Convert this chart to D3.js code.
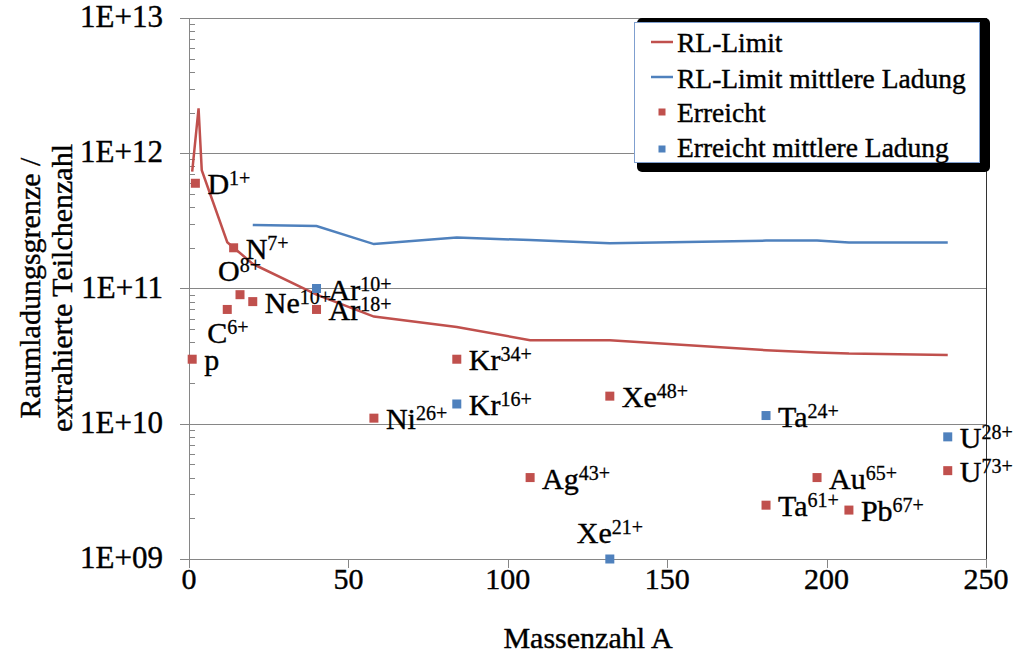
<!DOCTYPE html>
<html>
<head>
<meta charset="utf-8">
<script src="https://cdn.jsdelivr.net/npm/d3@7"></script>
<style>
  body { margin: 0; background: #fff; }
</style>
</head>
<body>
<svg width="1016" height="656"></svg>
<script>
// RL-Limit (space charge limit), red line
var limitA = [1, 3, 4, 12, 14, 16, 20, 40, 58, 84, 107, 132, 181, 197, 207, 238];
var limitN = [7.3e11, 2.15e12, 7.5e11, 2.2e11, 2.0e11, 1.83e11, 1.52e11, 9.0e10, 6.2e10, 5.2e10, 4.15e10, 4.15e10, 3.5e10, 3.37e10, 3.3e10, 3.22e10];

// RL-Limit mittlere Ladung, blue line
var meanLimitA = [20, 40, 58, 84, 107, 132, 181, 197, 207, 238];
var meanLimitN = [2.95e11, 2.9e11, 2.13e11, 2.38e11, 2.28e11, 2.16e11, 2.26e11, 2.26e11, 2.19e11, 2.19e11];

// Erreicht (red squares)
var reachedIon = ["p", "D", "C", "N", "O", "Ne", "Ar", "Ni", "Kr", "Ag", "Xe", "Ta", "Au", "Pb", "U"];
var reachedQ   = ["", "1+", "6+", "7+", "8+", "10+", "18+", "26+", "34+", "43+", "48+", "61+", "65+", "67+", "73+"];
var reachedA   = [1, 2, 12, 14, 16, 20, 40, 58, 84, 107, 132, 181, 197, 207, 238];
var reachedN   = [3e10, 6e11, 7e10, 2e11, 9e10, 8e10, 7e10, 1.1e10, 3e10, 4e9, 1.6e10, 2.5e9, 4e9, 2.3e9, 4.5e9];

// Erreicht mittlere Ladung (blue squares)
var meanIon = ["Ar", "Kr", "Xe", "Ta", "U"];
var meanQ   = ["10+", "16+", "21+", "24+", "28+"];
var meanA   = [40, 84, 132, 181, 238];
var meanN   = [1e11, 1.4e10, 1e9, 1.15e10, 8e9];

var yTicks = [1e9, 1e10, 1e11, 1e12, 1e13];
var xTicks = [0, 50, 100, 150, 200, 250];

var red = "#c0504d", blue = "#4f81bd", grid = "#868686";
var serif = "'Liberation Serif'";

// label placement exceptions (dx, dy from point to text baseline start)
var labelShift = { "C6+": [-20, 34], "O8+": [-22, -14], "Xe21+": [-33, -16] };

var svg = d3.select("svg");
var plotL = 189, plotR = 986, plotT = 18, plotB = 559;

var x = d3.scaleLinear().domain([0, 250]).range([plotL, plotR]);
var y = d3.scaleLog().domain([1e9, 1e13]).range([plotB, plotT]);

// heavier serif text like the original
function txt(sel, size) {
    return sel.style("font-family", serif).style("font-size", size + "px")
        .attr("fill", "#000").attr("stroke", "#000").attr("stroke-width", 0.4);
}

// grid lines
svg.append("g").selectAll("line").data(yTicks).enter().append("line")
    .attr("x1", plotL - 9).attr("x2", plotR)
    .attr("y1", function(d) { return Math.round(y(d)) + 0.5; }).attr("y2", function(d) { return Math.round(y(d)) + 0.5; })
    .attr("stroke", grid).attr("stroke-width", 1);

// minor log ticks inside the axis
var minor = [];
yTicks.slice(0, 4).forEach(function(t) { for (var k = 2; k < 10; k++) minor.push(t * k); });
svg.append("g").selectAll("line").data(minor).enter().append("line")
    .attr("x1", plotL).attr("x2", plotL + 6)
    .attr("y1", function(d) { return Math.round(y(d)) + 0.5; }).attr("y2", function(d) { return Math.round(y(d)) + 0.5; })
    .attr("stroke", grid);

// y axis
svg.append("line").attr("x1", plotL + 0.5).attr("x2", plotL + 0.5).attr("y1", plotT).attr("y2", plotB).attr("stroke", grid);
txt(svg.append("g").selectAll("text").data(yTicks).enter().append("text")
    .attr("x", 163).attr("y", function(d) { return y(d) + 9; })
    .attr("text-anchor", "end"), 31)
    .text(function(d) { return "1E+" + d3.format("02d")(Math.round(Math.log10(d))); });

// x axis
svg.append("line").attr("x1", plotL).attr("x2", plotR).attr("y1", plotB + 0.5).attr("y2", plotB + 0.5).attr("stroke", grid);
svg.append("line").attr("x1", plotR + 0.5).attr("x2", plotR + 0.5).attr("y1", plotT).attr("y2", plotB + 9).attr("stroke", "#333");
svg.append("g").selectAll("line").data(xTicks).enter().append("line")
    .attr("x1", function(d) { return Math.round(x(d)) + 0.5; }).attr("x2", function(d) { return Math.round(x(d)) + 0.5; })
    .attr("y1", plotB).attr("y2", plotB + 9).attr("stroke", grid);
txt(svg.append("g").selectAll("text").data(xTicks).enter().append("text")
    .attr("x", function(d) { return x(d); }).attr("y", 589)
    .attr("text-anchor", "middle"), 30)
    .text(function(d) { return d; });

// axis titles
txt(svg.append("text").attr("x", 588).attr("y", 648).attr("text-anchor", "middle"), 30)
    .text("Massenzahl A");
var yt = txt(svg.append("text").attr("transform", "translate(40,288) rotate(-90)")
    .attr("text-anchor", "middle"), 30);
yt.append("tspan").attr("x", 0).attr("y", 0).text("Raumladungsgrenze /");
yt.append("tspan").attr("x", 0).attr("y", 32).text("extrahierte Teilchenzahl");

// lines
var line = d3.line().x(function(d) { return x(d[0]); }).y(function(d) { return y(d[1]); });
svg.append("path").datum(d3.zip(limitA, limitN)).attr("d", line)
    .attr("fill", "none").attr("stroke", red).attr("stroke-width", 2.5);
svg.append("path").datum(d3.zip(meanLimitA, meanLimitN)).attr("d", line)
    .attr("fill", "none").attr("stroke", blue).attr("stroke-width", 2.5);

// points with labels
function drawPoints(ions, qs, as, ns, color) {
    var data = d3.range(ions.length).map(function(i) {
        return { ion: ions[i], q: qs[i], a: as[i], n: ns[i] };
    });
    svg.append("g").selectAll("rect").data(data).enter().append("rect")
        .attr("x", function(d) { return x(d.a) - 4.5; })
        .attr("y", function(d) { return y(d.n) - 4.5; })
        .attr("width", 9).attr("height", 9).attr("fill", color);
    var t = txt(svg.append("g").selectAll("text").data(data).enter().append("text")
        .attr("x", function(d) { var s = labelShift[d.ion + d.q]; return x(d.a) + (s ? s[0] : 12); })
        .attr("y", function(d) { var s = labelShift[d.ion + d.q]; return y(d.n) + (s ? s[1] : 11); }), 30);
    t.append("tspan").text(function(d) { return d.ion; });
    t.append("tspan").attr("dy", -9).style("font-size", "20px").attr("stroke-width", 0.3)
        .text(function(d) { return d.q; });
}
drawPoints(reachedIon, reachedQ, reachedA, reachedN, red);
drawPoints(meanIon, meanQ, meanA, meanN, blue);

// legend
var lg = svg.append("g");
lg.append("rect").attr("x", 637).attr("y", 18).attr("width", 353).attr("height", 154)
    .attr("rx", 5).attr("fill", "#000");
lg.append("rect").attr("x", 634.5).attr("y", 22.5).attr("width", 345).attr("height", 140)
    .attr("fill", "#fff").attr("stroke", "#7f9fcf").attr("stroke-width", 1);
var legendItems = [
    { label: "RL-Limit", color: red, kind: "line" },
    { label: "RL-Limit mittlere Ladung", color: blue, kind: "line" },
    { label: "Erreicht", color: red, kind: "mark" },
    { label: "Erreicht mittlere Ladung", color: blue, kind: "mark" }
];
var rowY = [42, 77, 112, 149];
var rowBase = [52, 88, 122, 157];
legendItems.forEach(function(it, i) {
    if (it.kind === "line") {
        lg.append("line").attr("x1", 651).attr("x2", 673).attr("y1", rowY[i]).attr("y2", rowY[i])
            .attr("stroke", it.color).attr("stroke-width", 2.5);
    } else {
        lg.append("rect").attr("x", 658.5).attr("y", rowY[i] - 3.5).attr("width", 7).attr("height", 7)
            .attr("fill", it.color);
    }
    txt(lg.append("text").attr("x", 677).attr("y", rowBase[i]), 27.5).text(it.label);
});
</script>
</body>
</html>
